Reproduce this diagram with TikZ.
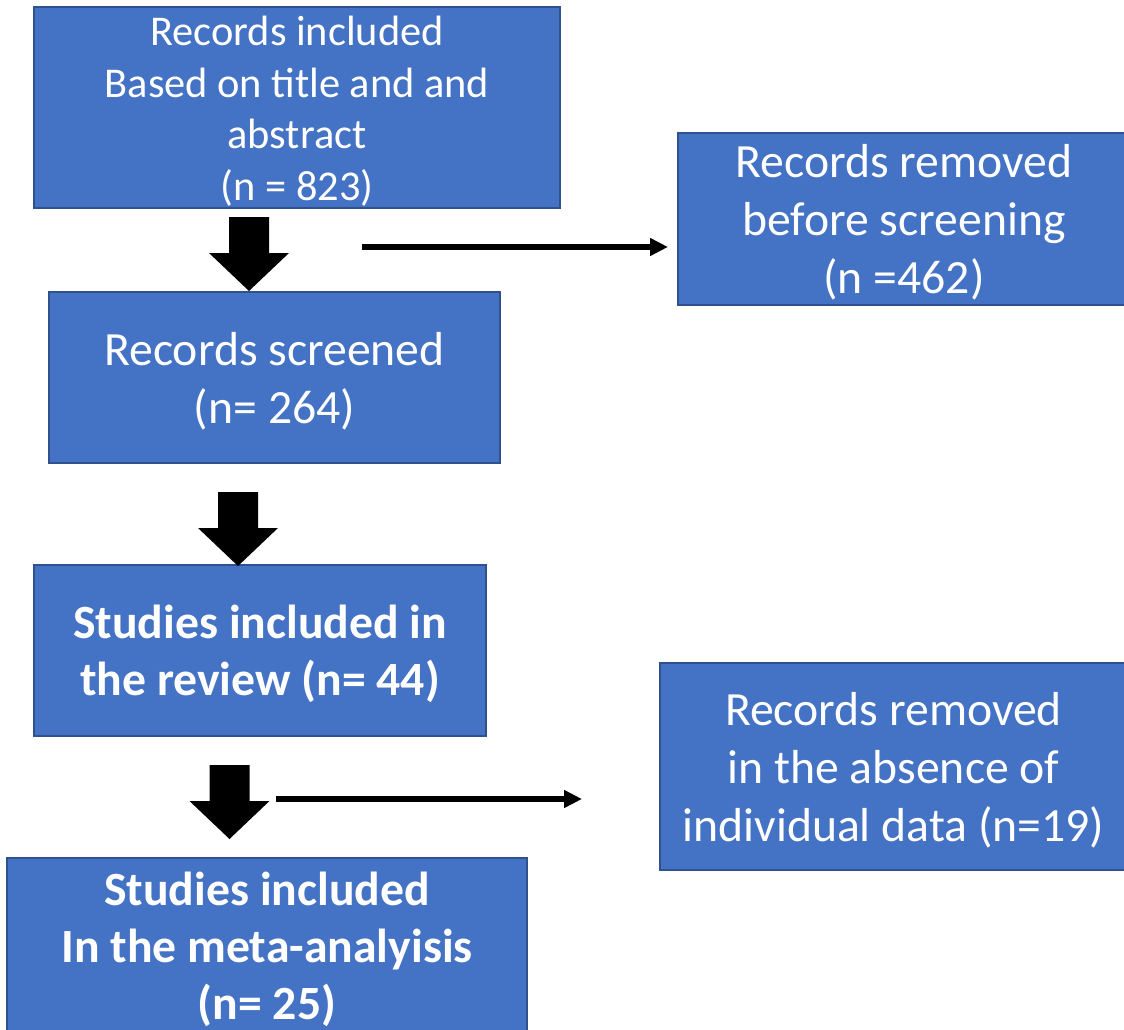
\documentclass[tikz,border=0pt]{standalone}
\usepackage{fontspec}
\setmainfont{Carlito}
\usetikzlibrary{arrows.meta}
\definecolor{boxfill}{HTML}{4472C4}
\definecolor{boxline}{HTML}{2F528F}
\tikzset{
  flowbox/.style={rectangle, fill=boxfill, draw=boxline, line width=2pt, inner sep=0pt},
  boxtext/.style={text=white, align=center, inner sep=0pt, yshift=-3.5pt},
  bigtext/.style={boxtext, font=\fontsize{47.7}{58}\selectfont},
  boldtext/.style={boxtext, font=\bfseries\fontsize{47.7}{57}\selectfont},
  smalltext/.style={boxtext, font=\fontsize{42.4}{51.5}\selectfont},
  thinarrow/.style={line width=6pt, -{Triangle[length=18pt,width=17pt]}},
}
\newcommand{\blockdown}[1]{\fill[black] (#1) ++(-20,0) -- ++(40,0) -- ++(0,36) -- ++(20,0) -- ++(-40,38) -- ++(-40,-38) -- ++(20,0) -- cycle;}
\begin{document}
\begin{tikzpicture}[x=1pt,y=-1pt]
\useasboundingbox (0,0) rectangle (1124,1030);
\clip (0,0) rectangle (1124,1030);
% boxes
\node[flowbox, minimum width=526pt, minimum height=201pt,
  label={[smalltext]center:{Records included\\Based on title and and\\abstract\\(n = 823)}}] (b1) at (297,107.5) {};
\node[flowbox, minimum width=452pt, minimum height=171pt,
  label={[bigtext]center:{Records removed\\before screening\\(n =462)}}] (b2) at (904,219) {};
\node[flowbox, minimum width=451pt, minimum height=171pt,
  label={[bigtext]center:{Records screened\\(n= 264)}}] (b3) at (274.5,377.5) {};
\node[flowbox, minimum width=452pt, minimum height=171pt,
  label={[boldtext]center:{Studies included in\\the review (n= 44)}}] (b4) at (260,650.5) {};
\node[flowbox, minimum width=467pt, minimum height=207pt,
  label={[bigtext]center:{Records removed\\in the absence of\\individual data (n=19)}}] (b5) at (893.5,766.5) {};
\node[flowbox, minimum width=520pt, minimum height=176pt,
  label={[boldtext]center:{Studies included\\In the meta-analyisis\\(n= 25)}}] (b6) at (267,946) {};
% block arrows
\coordinate (a1) at (249,217);
\coordinate (a2) at (238,492);
\coordinate (a3) at (229.5,765);
\blockdown{a1}
\blockdown{a2}
\blockdown{a3}
% thin arrows
\coordinate (t1s) at (362,247);
\coordinate (t1e) at (668,247);
\coordinate (t2s) at (276,799);
\coordinate (t2e) at (582,799);
\draw[thinarrow] (t1s) -- (t1e);
\draw[thinarrow] (t2s) -- (t2e);
\end{tikzpicture}
\end{document}
